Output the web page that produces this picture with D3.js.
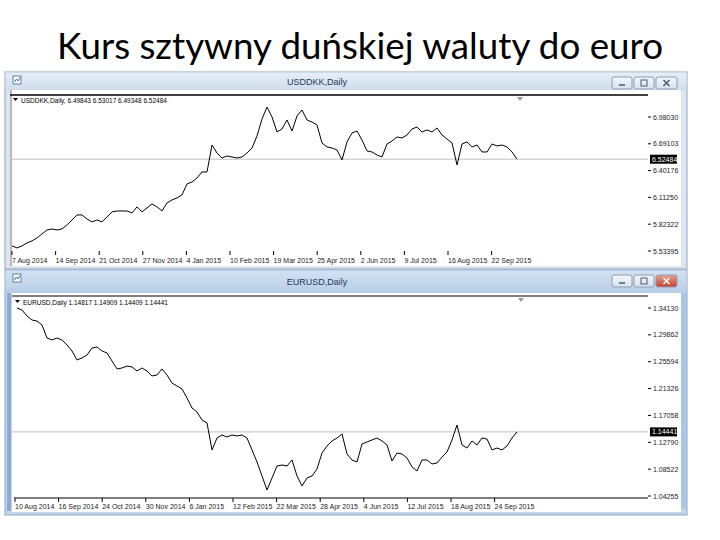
<!DOCTYPE html>
<html><head><meta charset="utf-8">
<script src="https://cdn.jsdelivr.net/npm/d3@7/dist/d3.min.js"></script>
<style>body{margin:0;background:#fff}svg{display:block}</style>
</head><body>
<svg id="c" width="720" height="540"></svg>
<script>
// ---------- DATA ----------
const chartTitle = "Kurs sztywny duńskiej waluty do euro";

const usddkkName = "USDDKK,Daily";
const usddkkHeader = "USDDKK,Daily,  6.49843 6.53017 6.49348 6.52484";
const usddkkLast = 6.52484;
const usddkkValues = [
  5.589,5.567,5.589,5.621,5.643,5.675,5.718,5.761,5.772,5.761,
  5.772,5.815,5.869,5.923,5.923,5.880,5.848,5.869,5.848,5.902,
  5.956,5.966,5.966,5.966,5.945,6.010,5.956,5.999,6.042,6.010,
  5.966,6.053,6.085,6.107,6.139,6.258,6.279,6.322,6.387,6.387,
  6.678,6.592,6.538,6.560,6.549,6.538,6.549,6.592,6.646,6.775,
  6.959,7.088,6.980,6.819,6.851,6.948,6.829,6.991,7.056,6.948,
  6.926,6.894,6.700,6.657,6.646,6.624,6.517,6.711,6.808,6.829,
  6.732,6.614,6.603,6.570,6.549,6.689,6.721,6.765,6.754,6.786,
  6.851,6.872,6.819,6.840,6.819,6.862,6.786,6.743,6.700,6.463,
  6.689,6.711,6.657,6.678,6.603,6.603,6.689,6.668,6.678,6.657,
  6.603,6.525
];
const usddkkDates = ["7 Aug 2014","14 Sep 2014","21 Oct 2014","27 Nov 2014","4 Jan 2015","10 Feb 2015",
  "19 Mar 2015","25 Apr 2015","2 Jun 2015","9 Jul 2015","16 Aug 2015","22 Sep 2015"];
const usddkkPriceTicks = [6.98030, 6.69103, 6.40176, 6.11250, 5.82322, 5.53395];

const eurusdName = "EURUSD,Daily";
const eurusdHeader = "EURUSD,Daily  1.14817 1.14909 1.14409 1.14441";
const eurusdLast = 1.14441;
const eurusdValues = [
  1.3413,1.3381,1.3286,1.3222,1.3206,1.3143,1.2936,1.2905,1.2936,1.2905,
  1.2825,1.2730,1.2587,1.2619,1.2666,1.2777,1.2793,1.2730,1.2698,1.2571,
  1.2444,1.2460,1.2491,1.2476,1.2412,1.2460,1.2412,1.2333,1.2348,1.2444,
  1.2348,1.2221,1.2174,1.2126,1.1983,1.1824,1.1760,1.1633,1.1586,1.1157,
  1.1347,1.1395,1.1363,1.1395,1.1379,1.1395,1.1347,1.1157,1.0966,1.0744,
  1.0521,1.0712,1.0902,1.0918,1.0902,1.0998,1.0744,1.0585,1.0712,1.0744,
  1.0855,1.1109,1.1220,1.1300,1.1347,1.1411,1.1093,1.0998,1.0966,1.1252,
  1.1284,1.1316,1.1347,1.1300,1.1236,1.0982,1.1109,1.1093,1.1030,1.0887,
  1.0823,1.0998,1.0998,1.0934,1.0950,1.1045,1.1125,1.1316,1.1554,1.1236,
  1.1188,1.1300,1.1236,1.1347,1.1331,1.1157,1.1188,1.1157,1.1220,1.1347,
  1.1444
];
const eurusdDates = ["10 Aug 2014","16 Sep 2014","24 Oct 2014","30 Nov 2014","6 Jan 2015","12 Feb 2015",
  "22 Mar 2015","28 Apr 2015","4 Jun 2015","12 Jul 2015","18 Aug 2015","24 Sep 2015"];
const eurusdPriceTicks = [1.34130, 1.29862, 1.25594, 1.21326, 1.17058, 1.12790, 1.08522, 1.04255];

// ---------- DRAW ----------
const svg = d3.select("#c");
const defs = svg.append("defs");
function grad(id, c1, c2){
  const g = defs.append("linearGradient").attr("id", id).attr("x1",0).attr("y1",0).attr("x2",0).attr("y2",1);
  g.append("stop").attr("offset","0%").attr("stop-color",c1);
  g.append("stop").attr("offset","100%").attr("stop-color",c2);
}
grad("tbInactive", "#e6eef8", "#cfdcec");
grad("tbActive", "#d3e2f3", "#b6cce6");
grad("btn", "#f4f7fb", "#d6e0ec");
grad("btnClose", "#e8a293", "#c6412c");

svg.append("text")
  .attr("x", 57).attr("y", 59)
  .attr("textLength", 606).attr("lengthAdjust", "spacingAndGlyphs")
  .style("font-family", "Lato, 'Open Sans', sans-serif")
  .style("font-size", "37px").attr("fill", "#000")
  .text(chartTitle);

const smallFont = "'Liberation Sans', Arial, sans-serif";

function drawWindow(o){
  const g = svg.append("g");
  // frame
  g.append("rect").attr("x", o.wx).attr("y", o.wy).attr("width", o.ww).attr("height", o.wh)
    .attr("fill", o.active ? "#c4d6ec" : "#dde6f0").attr("stroke", "#8fa5bf").attr("stroke-width", 1);
  // title bar
  g.append("rect").attr("x", o.wx+0.5).attr("y", o.wy+0.5).attr("width", o.ww-1).attr("height", o.th)
    .attr("fill", o.active ? "url(#tbActive)" : "url(#tbInactive)");
  // client area
  g.append("rect").attr("x", o.cx0).attr("y", o.wy + o.th).attr("width", o.cx1 - o.cx0).attr("height", o.wh - o.th - 3)
    .attr("fill", "#fff");
  if (o.active) {
    g.append("rect").attr("x", o.wx+2).attr("y", o.wy+o.th).attr("width", 4).attr("height", o.wh-o.th-4).attr("fill", "#8eaad3");
    g.append("rect").attr("x", o.cx1).attr("y", o.wy+o.th).attr("width", 5).attr("height", o.wh-o.th-6).attr("fill", "#a9c7e8");
  } else {
    g.append("line").attr("x1", o.cx0+1).attr("x2", o.cx0+1).attr("y1", o.wy+o.th).attr("y2", o.wy+o.wh-3)
      .attr("stroke", "#b8b8b8").attr("stroke-width", 2);
    g.append("rect").attr("x", o.cx1).attr("y", o.wy+o.th).attr("width", 4).attr("height", o.wh-o.th-4).attr("fill", "#dbe6f2");
  }
  // icon
  const ic = g.append("g").attr("transform", `translate(${o.wx+8},${o.wy+4})`);
  ic.append("rect").attr("width", 8).attr("height", 8).attr("fill", "#fff").attr("stroke", "#5f7fa8");
  ic.append("path").attr("d", "M1.5,6 L3.5,3 L5,5 L7,1.5").attr("fill", "none").attr("stroke", "#3b6bb0");
  // title
  g.append("text").attr("x", o.titleX).attr("y", o.wy + o.th/2 + 3.5).attr("text-anchor", "middle")
    .style("font-family", smallFont).style("font-size", "9px").attr("fill", "#1f3a5c").text(o.name);
  // buttons
  const bx = [612, 634, 656], bw = [20, 20, 21];
  bx.forEach((x, i) => {
    const y = o.wy + 5, h = 12;
    g.append("rect").attr("x", x).attr("y", y).attr("width", bw[i]).attr("height", h).attr("rx", 2)
      .attr("fill", (o.active && i === 2) ? "url(#btnClose)" : "url(#btn)").attr("stroke", "#8b9db4");
    const cx = x + bw[i]/2, cy = y + h/2;
    const col = (o.active && i === 2) ? "#fff" : "#4a5c74";
    if (i === 0) g.append("line").attr("x1", cx-3).attr("x2", cx+3).attr("y1", cy+2).attr("y2", cy+2).attr("stroke", col).attr("stroke-width", 1.5);
    if (i === 1) g.append("rect").attr("x", cx-3).attr("y", cy-3).attr("width", 6).attr("height", 6).attr("fill", "none").attr("stroke", col);
    if (i === 2) g.append("path").attr("d", `M${cx-3},${cy-3}L${cx+3},${cy+3}M${cx+3},${cy-3}L${cx-3},${cy+3}`).attr("stroke", col).attr("stroke-width", 1.5);
  });

  // scales
  const n = o.values.length;
  const x = d3.scaleLinear().domain([0, n-1]).range([o.dx0, o.dx1]);
  const y = d3.scaleLinear().domain(o.yDomain).range(o.yRange);

  // top chart border
  g.append("line").attr("x1", o.cx0).attr("x2", o.plotRight).attr("y1", o.topLine).attr("y2", o.topLine)
    .attr("stroke", "#000").attr("stroke-width", o.topLineW);
  // shift marker
  g.append("path").attr("d", `M${o.markX-3},${o.topLine+2}L${o.markX+3},${o.topLine+2}L${o.markX},${o.topLine+6}Z`).attr("fill", "#9a9a9a");

  // header
  g.append("path").attr("d", `M${o.cx0+3},${o.headerY-5}L${o.cx0+8},${o.headerY-5}L${o.cx0+5.5},${o.headerY-2}Z`).attr("fill", "#000");
  g.append("text").attr("x", o.cx0+11).attr("y", o.headerY)
    .style("font-family", smallFont).style("font-size", "6.5px").attr("fill", "#000").text(o.header);

  // last price line
  g.append("line").attr("x1", o.cx0).attr("x2", o.plotRight).attr("y1", y(o.last)).attr("y2", y(o.last))
    .attr("stroke", "#c0c0c0").attr("stroke-width", 1);

  // price axis
  o.priceTicks.forEach(v => {
    g.append("line").attr("x1", o.plotRight).attr("x2", o.plotRight+3).attr("y1", y(v)).attr("y2", y(v)).attr("stroke", "#000");
    g.append("text").attr("x", o.plotRight+5).attr("y", y(v)+2.5)
      .style("font-family", smallFont).style("font-size", "7px").attr("fill", "#222").text(d3.format(".5f")(v));
  });
  g.append("rect").attr("x", o.plotRight+2).attr("y", y(o.last)-4.5).attr("width", 27).attr("height", 9).attr("fill", "#000");
  g.append("text").attr("x", o.plotRight+4).attr("y", y(o.last)+2.5)
    .style("font-family", smallFont).style("font-size", "7px").attr("fill", "#fff").text(d3.format(".5f")(o.last));

  // x axis
  if (o.axisLine) {
    g.append("line").attr("x1", o.cx0+2).attr("x2", o.plotRight).attr("y1", o.axisY).attr("y2", o.axisY).attr("stroke", "#000");
  }
  o.dates.forEach((d, k) => {
    const xi = x(o.tickStart + k * o.tickStep);
    g.append("line").attr("x1", xi).attr("x2", xi).attr("y1", o.tickY0).attr("y2", o.tickY1).attr("stroke", "#000");
    g.append("text").attr("x", xi).attr("y", o.labelY)
      .style("font-family", smallFont).style("font-size", "7px").attr("fill", "#222").text(d);
  });

  // price line
  const line = d3.line().x((d, i) => x(i)).y(d => y(d));
  g.append("path").datum(o.values).attr("d", line).attr("fill", "none").attr("stroke", "#000").attr("stroke-width", 1);
}

drawWindow({
  name: usddkkName, header: usddkkHeader, values: usddkkValues, dates: usddkkDates,
  priceTicks: usddkkPriceTicks, last: usddkkLast, active: false,
  wx: 5, wy: 72, ww: 682, wh: 197, th: 18, cx0: 10, cx1: 681, titleX: 317,
  plotRight: 648, topLine: 95, topLineW: 1.6, markX: 520, headerY: 103,
  dx0: 12, dx1: 517, yDomain: [5.53395, 6.98030], yRange: [251, 117],
  axisLine: false, axisY: 253, tickY0: 251, tickY1: 255, labelY: 263,
  tickStart: 0, tickStep: 8.72
});

drawWindow({
  name: eurusdName, header: eurusdHeader, values: eurusdValues, dates: eurusdDates,
  priceTicks: eurusdPriceTicks, last: eurusdLast, active: true,
  wx: 5, wy: 270, ww: 682, wh: 245, th: 23, cx0: 12, cx1: 681, titleX: 317,
  plotRight: 648, topLine: 296, topLineW: 1, markX: 521, headerY: 305,
  dx0: 17, dx1: 517, yDomain: [1.04255, 1.34130], yRange: [496, 308],
  axisLine: true, axisY: 498, tickY0: 498, tickY1: 502, labelY: 509,
  tickStart: -0.4, tickStep: 8.72
});
</script>
</body></html>
